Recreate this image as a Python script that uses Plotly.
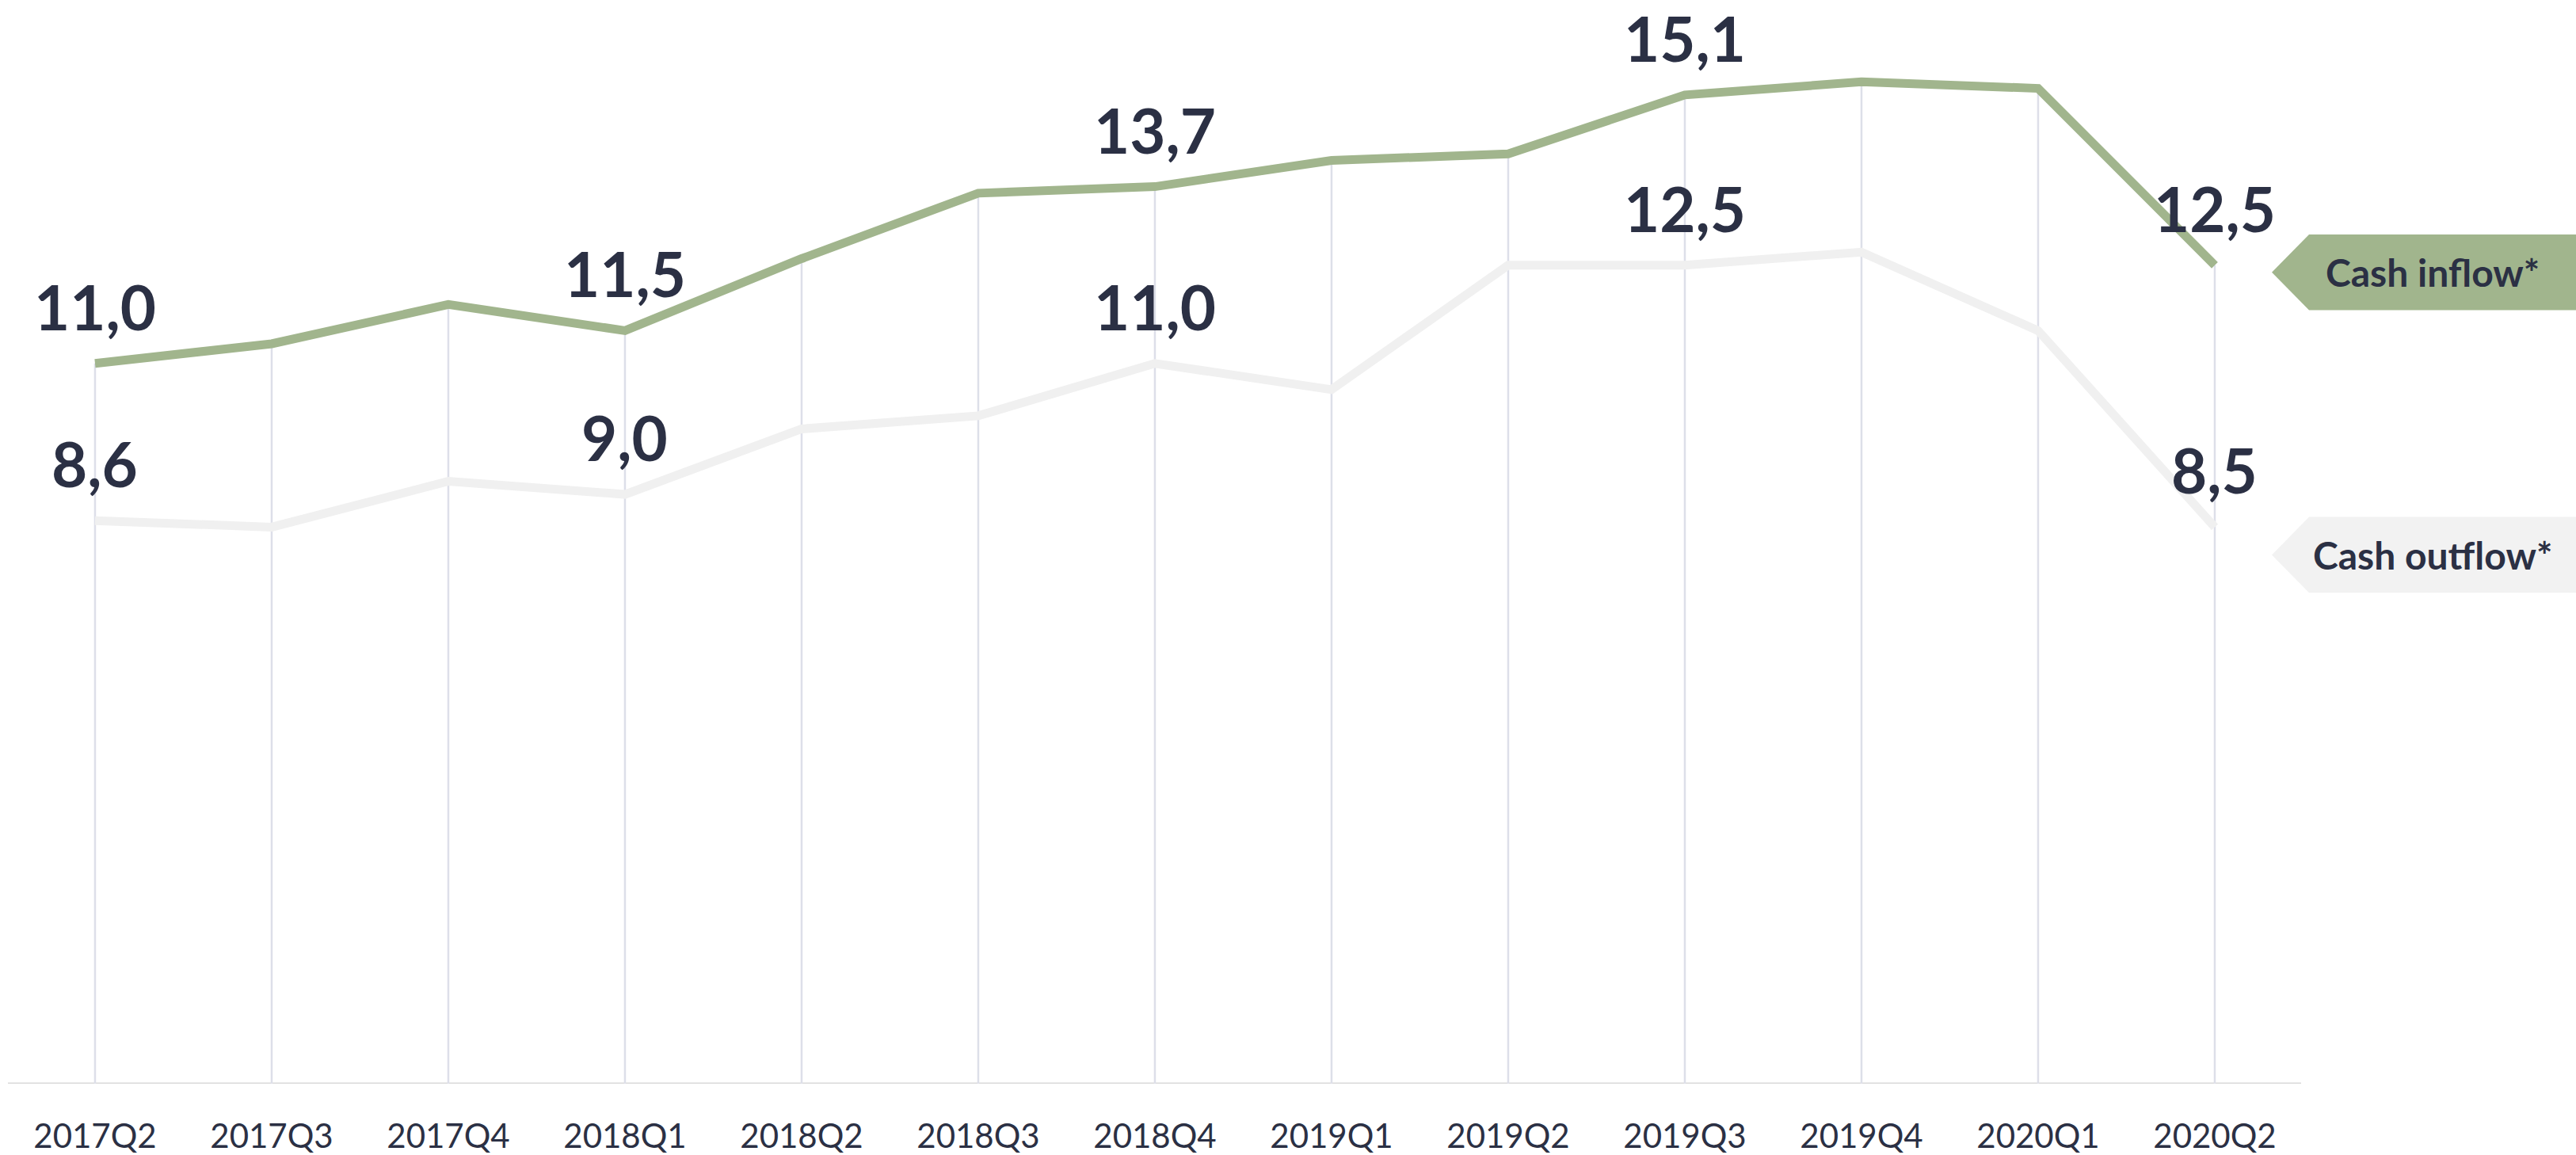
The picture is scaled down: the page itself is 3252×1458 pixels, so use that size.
import plotly.graph_objects as go

categories = ["2017Q2", "2017Q3", "2017Q4", "2018Q1", "2018Q2", "2018Q3", "2018Q4",
              "2019Q1", "2019Q2", "2019Q3", "2019Q4", "2020Q1", "2020Q2"]
cash_inflow = [11.0, 11.3, 11.9, 11.5, 12.6, 13.6, 13.7, 14.1, 14.2, 15.1, 15.3, 15.2, 12.5]
cash_outflow = [8.6, 8.5, 9.2, 9.0, 10.0, 10.2, 11.0, 10.6, 12.5, 12.5, 12.7, 11.5, 8.5]
labeled_idx = [0, 3, 6, 9, 12]
series_names = ["Cash inflow*", "Cash outflow*"]

W, H = 3252, 1458
B = 85
PH = H - B
GREEN = "#A1B58D"
GREY = "#F0F0F0"
TXT = "#2B3044"
FONT = "Lato"

def px(x):
    return x / W

def py(y):
    return (PH - y) / PH

fig = go.Figure()

# drop lines from axis to the inflow line
dx, dy = [], []
for c, v in zip(categories, cash_inflow):
    dx += [c, c, None]
    dy += [0, v, None]
fig.add_trace(go.Scatter(x=dx, y=dy, mode="lines", line=dict(color="#DDDFE9", width=2.5),
                         hoverinfo="skip", showlegend=False))

fig.add_trace(go.Scatter(x=categories, y=cash_outflow, mode="lines", name=series_names[1],
                         line=dict(color=GREY, width=11), showlegend=False))
fig.add_trace(go.Scatter(x=categories, y=cash_inflow, mode="lines", name=series_names[0],
                         line=dict(color=GREEN, width=11), showlegend=False))

annotations = []
for series in (cash_inflow, cash_outflow):
    for i in labeled_idx:
        annotations.append(dict(
            x=categories[i], y=series[i], xref="x", yref="y",
            text=f"{series[i]:.1f}".replace(".", ","),
            showarrow=False, yanchor="middle", xanchor="center", yshift=72,
            font=dict(family=FONT, size=78, color=TXT, weight="bold")))

shapes = [
    dict(type="line", xref="paper", yref="y", x0=px(10), x1=px(2905), y0=0, y1=0,
         line=dict(color="#D9D9D9", width=3), layer="below"),
]

for name, color, ymid in ((series_names[0], GREEN, 345), (series_names[1], "#F2F2F2", 703)):
    top, bot = ymid - 48, ymid + 48
    path = (f"M {px(2868)},{py(ymid)} L {px(2915)},{py(top)} L {px(3252)},{py(top)} "
            f"L {px(3252)},{py(bot)} L {px(2915)},{py(bot)} Z")
    shapes.append(dict(type="path", xref="paper", yref="paper", path=path,
                       fillcolor=color, line=dict(width=0)))
    annotations.append(dict(x=px(3071), y=py(ymid), xref="paper", yref="paper",
                            text=name, showarrow=False, xanchor="center", yanchor="middle",
                            font=dict(family=FONT, size=48, color=TXT, weight="bold")))

fig.update_layout(
    width=W, height=H,
    margin=dict(l=0, r=0, t=0, b=B),
    paper_bgcolor="white", plot_bgcolor="white",
    showlegend=False,
    shapes=shapes, annotations=annotations,
    xaxis=dict(type="category", categoryorder="array", categoryarray=categories,
               range=[-0.538, 14.045], showgrid=False, zeroline=False, showline=False,
               ticks="", ticklabelstandoff=38,
               tickfont=dict(family=FONT, size=42, color=TXT)),
    yaxis=dict(range=[0, 16.55], showgrid=False, zeroline=False, showline=False,
               showticklabels=False, ticks=""),
)

fig.write_html("out.html")
